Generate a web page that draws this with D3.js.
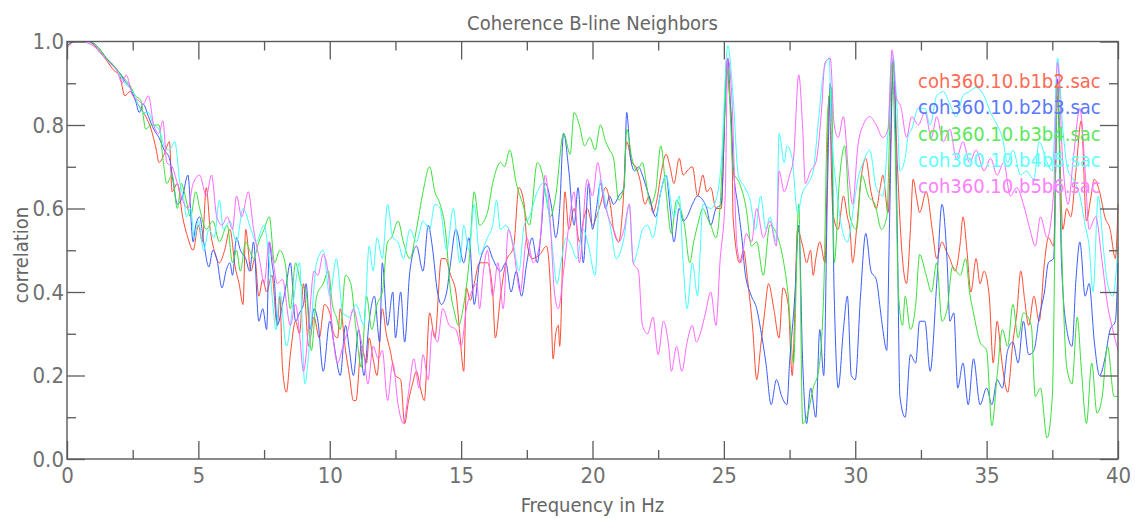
<!DOCTYPE html>
<html>
<head>
<meta charset="utf-8">
<script src="https://cdn.jsdelivr.net/npm/d3@7"></script>
<style>
  body { margin: 0; background: #fff; }
  text { font-family: "Liberation Sans Narrow", "DejaVu Sans Condensed", sans-serif; }
</style>
</head>
<body>
<div id="chart"></div>
<script>
//Series: [frequency Hz, correlation]
const b1b2 = [[0,0.985],[0.3,1.0],[0.8,1.0],[1.2,0.98],[1.5,0.955],[1.8,0.93],[2.0,0.92],[2.2,0.87],[2.4,0.88],[2.6,0.86],[2.8,0.84],[3.0,0.82],[3.2,0.79],[3.4,0.74],[3.5,0.71],[3.7,0.73],[3.9,0.76],[4.0,0.64],[4.2,0.66],[4.4,0.58],[4.6,0.53],[4.8,0.50],[5.0,0.56],[5.15,0.52],[5.3,0.65],[5.45,0.55],[5.6,0.5],[5.8,0.47],[6.0,0.5],[6.2,0.55],[6.4,0.46],[6.55,0.42],[6.7,0.37],[6.8,0.55],[7.0,0.45],[7.15,0.48],[7.3,0.39],[7.45,0.43],[7.6,0.4],[7.8,0.44],[8.0,0.32],[8.1,0.39],[8.2,0.22],[8.35,0.16],[8.5,0.25],[8.7,0.33],[8.85,0.3],[9.0,0.42],[9.2,0.27],[9.4,0.34],[9.6,0.29],[9.8,0.37],[10.0,0.35],[10.15,0.3],[10.3,0.29],[10.4,0.36],[10.6,0.26],[10.75,0.2],[10.9,0.14],[11.0,0.14],[11.2,0.27],[11.4,0.23],[11.5,0.29],[11.65,0.24],[11.8,0.2],[12.0,0.36],[12.15,0.3],[12.3,0.26],[12.5,0.2],[12.7,0.19],[12.85,0.085],[13.0,0.14],[13.15,0.18],[13.3,0.21],[13.45,0.17],[13.6,0.14],[13.8,0.35],[14.0,0.29],[14.25,0.48],[14.4,0.48],[14.6,0.44],[14.8,0.4],[14.95,0.3],[15.1,0.21],[15.2,0.41],[15.35,0.38],[15.5,0.42],[15.7,0.47],[16.0,0.47],[16.2,0.4],[16.3,0.29],[16.5,0.39],[16.7,0.47],[17.0,0.51],[17.2,0.65],[17.4,0.61],[17.5,0.52],[17.7,0.48],[18.0,0.49],[18.25,0.51],[18.4,0.41],[18.5,0.24],[18.6,0.3],[18.7,0.32],[18.75,0.27],[18.95,0.64],[19.1,0.55],[19.3,0.6],[19.5,0.52],[19.65,0.57],[19.8,0.6],[20.0,0.56],[20.15,0.58],[20.3,0.61],[20.5,0.65],[20.7,0.6],[20.8,0.55],[21.0,0.52],[21.15,0.6],[21.3,0.76],[21.5,0.71],[21.65,0.7],[21.8,0.67],[22.0,0.61],[22.15,0.63],[22.3,0.59],[22.45,0.62],[22.6,0.68],[22.8,0.73],[22.95,0.7],[23.1,0.66],[23.3,0.72],[23.45,0.68],[23.6,0.69],[23.8,0.7],[24.0,0.63],[24.2,0.68],[24.35,0.64],[24.5,0.65],[24.7,0.6],[24.9,0.6],[25.0,0.75],[25.1,0.955],[25.2,0.88],[25.3,0.79],[25.35,0.58],[25.6,0.47],[25.75,0.5],[25.9,0.43],[26.1,0.31],[26.25,0.19],[26.4,0.27],[26.55,0.35],[26.7,0.42],[26.9,0.36],[27.1,0.29],[27.25,0.41],[27.45,0.37],[27.6,0.2],[27.7,0.35],[27.8,0.55],[28.0,0.51],[28.15,0.47],[28.3,0.5],[28.4,0.44],[28.5,0.48],[28.65,0.52],[28.85,0.47],[29.0,0.87],[29.15,0.59],[29.35,0.55],[29.55,0.63],[29.7,0.58],[29.8,0.55],[29.9,0.47],[30.05,0.55],[30.2,0.66],[30.4,0.72],[30.6,0.64],[30.8,0.6],[30.95,0.65],[31.05,0.68],[31.25,0.59],[31.45,0.95],[31.6,0.71],[31.75,0.52],[31.95,0.42],[32.1,0.55],[32.2,0.67],[32.35,0.62],[32.45,0.59],[32.7,0.64],[32.95,0.54],[33.1,0.48],[33.3,0.52],[33.45,0.5],[33.6,0.48],[33.8,0.45],[34.0,0.52],[34.1,0.58],[34.25,0.5],[34.4,0.4],[34.6,0.48],[34.75,0.42],[34.9,0.45],[35.1,0.39],[35.25,0.23],[35.4,0.33],[35.55,0.25],[35.65,0.2],[35.8,0.16],[36.0,0.28],[36.15,0.35],[36.3,0.45],[36.45,0.38],[36.6,0.32],[36.8,0.39],[37.0,0.33],[37.2,0.47],[37.35,0.53],[37.55,0.51],[37.7,0.87],[37.9,0.55],[38.05,0.6],[38.2,0.58],[38.4,0.69],[38.6,0.81],[38.8,0.57],[38.95,0.62],[39.1,0.67],[39.3,0.64],[39.5,0.58],[39.7,0.55],[39.9,0.48],[40.0,0.61]]

const b2b3 = [[0,0.99],[0.3,1.0],[0.8,1.0],[1.2,0.985],[1.5,0.96],[1.8,0.94],[2.0,0.925],[2.2,0.905],[2.4,0.89],[2.6,0.86],[2.75,0.83],[2.9,0.85],[3.1,0.82],[3.3,0.79],[3.5,0.77],[3.7,0.74],[3.9,0.72],[4.05,0.66],[4.2,0.61],[4.4,0.63],[4.6,0.68],[4.8,0.52],[4.9,0.56],[5.05,0.58],[5.2,0.52],[5.4,0.46],[5.55,0.5],[5.7,0.48],[5.9,0.41],[6.05,0.45],[6.2,0.47],[6.3,0.44],[6.45,0.53],[6.6,0.5],[6.8,0.48],[6.95,0.45],[7.1,0.52],[7.3,0.33],[7.45,0.36],[7.6,0.31],[7.7,0.52],[7.8,0.47],[7.9,0.42],[8.0,0.32],[8.2,0.37],[8.35,0.42],[8.5,0.47],[8.7,0.33],[8.85,0.35],[9.0,0.37],[9.1,0.42],[9.25,0.31],[9.4,0.36],[9.55,0.33],[9.75,0.21],[10.0,0.33],[10.15,0.28],[10.25,0.24],[10.4,0.2],[10.6,0.32],[10.75,0.26],[10.9,0.2],[11.1,0.31],[11.3,0.2],[11.5,0.33],[11.7,0.39],[11.9,0.28],[12.0,0.47],[12.2,0.32],[12.4,0.4],[12.5,0.29],[12.7,0.4],[12.85,0.28],[13.05,0.45],[13.3,0.51],[13.55,0.45],[13.75,0.56],[13.9,0.51],[14.1,0.4],[14.25,0.37],[14.45,0.4],[14.6,0.47],[14.8,0.55],[15.1,0.47],[15.3,0.53],[15.5,0.37],[15.7,0.47],[16.0,0.51],[16.2,0.48],[16.5,0.45],[16.7,0.47],[16.9,0.4],[17.1,0.45],[17.3,0.39],[17.5,0.47],[17.7,0.53],[17.9,0.47],[18.05,0.55],[18.2,0.66],[18.45,0.6],[18.6,0.53],[18.75,0.6],[18.9,0.78],[19.1,0.69],[19.3,0.56],[19.45,0.65],[19.65,0.47],[19.85,0.66],[20.0,0.55],[20.15,0.6],[20.3,0.66],[20.5,0.6],[20.65,0.63],[20.8,0.61],[21.0,0.63],[21.2,0.65],[21.3,0.83],[21.45,0.72],[21.6,0.69],[21.75,0.7],[21.9,0.68],[22.05,0.65],[22.2,0.62],[22.4,0.58],[22.6,0.64],[22.8,0.68],[22.95,0.6],[23.1,0.52],[23.3,0.6],[23.45,0.57],[23.6,0.58],[23.8,0.61],[24.0,0.63],[24.2,0.62],[24.35,0.6],[24.5,0.56],[24.7,0.6],[24.9,0.61],[25.05,0.85],[25.15,0.96],[25.25,0.85],[25.35,0.71],[25.55,0.6],[25.7,0.52],[25.8,0.45],[26.05,0.39],[26.25,0.36],[26.4,0.31],[26.6,0.23],[26.8,0.13],[27.0,0.19],[27.2,0.15],[27.4,0.13],[27.5,0.23],[27.7,0.39],[27.85,0.56],[28.0,0.23],[28.15,0.085],[28.3,0.17],[28.5,0.1],[28.65,0.31],[28.8,0.2],[28.95,0.67],[29.05,0.9],[29.2,0.39],[29.35,0.17],[29.55,0.31],[29.7,0.39],[29.85,0.2],[30.0,0.19],[30.2,0.39],[30.4,0.54],[30.6,0.45],[30.8,0.43],[30.95,0.36],[31.05,0.31],[31.2,0.26],[31.3,0.55],[31.45,0.96],[31.6,0.55],[31.7,0.15],[31.9,0.1],[32.1,0.25],[32.3,0.23],[32.45,0.33],[32.65,0.33],[32.85,0.21],[33.1,0.42],[33.3,0.61],[33.5,0.47],[33.6,0.33],[33.75,0.35],[33.9,0.17],[34.1,0.23],[34.3,0.13],[34.5,0.24],[34.75,0.13],[35.0,0.17],[35.2,0.13],[35.4,0.19],[35.6,0.17],[35.8,0.26],[36.0,0.28],[36.2,0.23],[36.4,0.33],[36.6,0.25],[36.8,0.26],[37.0,0.34],[37.2,0.4],[37.35,0.47],[37.55,0.48],[37.7,0.91],[37.85,0.47],[38.05,0.31],[38.25,0.27],[38.4,0.43],[38.55,0.52],[38.75,0.39],[38.9,0.42],[39.1,0.28],[39.3,0.2],[39.5,0.24],[39.7,0.31],[39.9,0.33],[40.0,0.47]]

const b3b4 = [[0,1.0],[0.5,1.0],[0.9,1.0],[1.2,0.985],[1.5,0.96],[1.75,0.945],[2.0,0.925],[2.2,0.91],[2.4,0.895],[2.6,0.87],[2.8,0.86],[3.0,0.79],[3.2,0.8],[3.5,0.8],[3.65,0.72],[3.8,0.66],[4.0,0.68],[4.2,0.6],[4.35,0.66],[4.5,0.63],[4.7,0.58],[4.9,0.64],[5.05,0.6],[5.3,0.55],[5.55,0.57],[5.8,0.52],[6.1,0.56],[6.3,0.47],[6.45,0.5],[6.6,0.45],[6.8,0.52],[6.95,0.5],[7.1,0.48],[7.3,0.52],[7.5,0.55],[7.7,0.58],[7.9,0.47],[8.1,0.5],[8.3,0.47],[8.5,0.36],[8.7,0.47],[8.9,0.42],[9.1,0.4],[9.3,0.26],[9.5,0.39],[9.75,0.42],[9.95,0.45],[10.1,0.37],[10.25,0.34],[10.4,0.31],[10.6,0.44],[10.8,0.42],[11.0,0.31],[11.2,0.22],[11.4,0.39],[11.6,0.31],[11.8,0.37],[12.0,0.4],[12.2,0.52],[12.35,0.53],[12.6,0.57],[12.8,0.52],[13.05,0.48],[13.3,0.55],[13.55,0.64],[13.8,0.7],[14.0,0.64],[14.2,0.61],[14.4,0.55],[14.6,0.4],[14.75,0.35],[14.9,0.32],[15.1,0.37],[15.3,0.47],[15.5,0.64],[15.7,0.56],[16.0,0.59],[16.2,0.66],[16.5,0.71],[16.65,0.7],[16.85,0.74],[17.1,0.66],[17.35,0.61],[17.6,0.56],[17.9,0.71],[18.1,0.68],[18.25,0.62],[18.4,0.58],[18.6,0.63],[18.9,0.78],[19.15,0.73],[19.3,0.83],[19.5,0.8],[19.7,0.75],[19.9,0.77],[20.1,0.74],[20.3,0.8],[20.5,0.76],[20.65,0.74],[20.8,0.72],[21.0,0.62],[21.2,0.65],[21.3,0.79],[21.5,0.72],[21.7,0.69],[21.9,0.71],[22.05,0.66],[22.2,0.61],[22.4,0.64],[22.6,0.75],[22.8,0.64],[23.0,0.54],[23.2,0.62],[23.35,0.6],[23.5,0.56],[23.7,0.47],[23.85,0.52],[24.0,0.56],[24.2,0.6],[24.35,0.58],[24.5,0.56],[24.7,0.53],[24.85,0.6],[25.0,0.79],[25.15,0.94],[25.25,0.82],[25.35,0.69],[25.6,0.66],[25.85,0.6],[26.05,0.51],[26.25,0.52],[26.5,0.44],[26.75,0.56],[27.0,0.54],[27.25,0.48],[27.45,0.39],[27.65,0.23],[27.85,0.61],[28.0,0.085],[28.2,0.11],[28.4,0.17],[28.6,0.21],[28.8,0.4],[28.95,0.83],[29.1,0.89],[29.2,0.47],[29.4,0.67],[29.6,0.75],[29.8,0.58],[30.05,0.55],[30.25,0.68],[30.5,0.63],[30.75,0.61],[31.0,0.55],[31.2,0.58],[31.4,0.95],[31.5,0.79],[31.65,0.39],[31.8,0.32],[31.9,0.39],[32.1,0.31],[32.3,0.37],[32.45,0.49],[32.7,0.44],[32.9,0.4],[33.1,0.47],[33.3,0.33],[33.5,0.36],[33.7,0.46],[34.0,0.44],[34.2,0.48],[34.35,0.4],[34.5,0.35],[34.75,0.28],[35.0,0.26],[35.2,0.08],[35.4,0.2],[35.6,0.31],[35.8,0.27],[36.0,0.37],[36.2,0.29],[36.4,0.35],[36.7,0.32],[36.85,0.15],[37.05,0.17],[37.3,0.05],[37.5,0.15],[37.7,0.9],[37.85,0.52],[38.05,0.22],[38.25,0.18],[38.45,0.34],[38.6,0.22],[38.8,0.085],[39.0,0.23],[39.2,0.11],[39.4,0.15],[39.6,0.27],[39.85,0.15],[40.0,0.15]]

const b4b5 = [[0,1.0],[0.5,1.0],[1.0,0.99],[1.3,0.97],[1.6,0.95],[1.9,0.93],[2.2,0.9],[2.5,0.88],[2.7,0.85],[2.9,0.83],[3.1,0.83],[3.3,0.8],[3.5,0.79],[3.7,0.75],[3.9,0.74],[4.1,0.76],[4.3,0.66],[4.45,0.62],[4.55,0.58],[4.7,0.6],[4.85,0.53],[5.0,0.57],[5.2,0.5],[5.4,0.55],[5.6,0.53],[5.8,0.62],[5.95,0.55],[6.2,0.57],[6.45,0.52],[6.7,0.6],[7.0,0.55],[7.2,0.52],[7.5,0.56],[7.7,0.47],[7.85,0.36],[7.95,0.31],[8.1,0.4],[8.35,0.27],[8.6,0.37],[8.85,0.47],[9.05,0.18],[9.25,0.29],[9.5,0.47],[9.75,0.5],[10.0,0.39],[10.25,0.48],[10.5,0.35],[10.75,0.34],[11.0,0.37],[11.3,0.32],[11.5,0.51],[11.65,0.45],[11.8,0.53],[12.0,0.48],[12.2,0.61],[12.4,0.53],[12.6,0.52],[12.8,0.48],[13.05,0.55],[13.3,0.52],[13.55,0.57],[13.8,0.55],[14.0,0.61],[14.2,0.6],[14.45,0.5],[14.7,0.6],[14.95,0.47],[15.1,0.56],[15.3,0.5],[15.5,0.61],[15.7,0.49],[16.0,0.53],[16.2,0.56],[16.35,0.62],[16.5,0.55],[16.7,0.56],[17.0,0.51],[17.2,0.45],[17.4,0.56],[17.6,0.58],[17.9,0.64],[18.1,0.66],[18.25,0.63],[18.45,0.52],[18.65,0.42],[18.8,0.47],[19.0,0.53],[19.2,0.51],[19.4,0.48],[19.65,0.55],[19.85,0.51],[20.1,0.44],[20.3,0.67],[20.5,0.61],[20.7,0.55],[20.9,0.48],[21.2,0.53],[21.4,0.61],[21.55,0.47],[21.75,0.51],[21.9,0.55],[22.1,0.56],[22.3,0.53],[22.6,0.64],[22.8,0.68],[23.1,0.58],[23.3,0.63],[23.45,0.47],[23.6,0.36],[23.8,0.47],[24.0,0.39],[24.1,0.5],[24.2,0.61],[24.5,0.6],[24.7,0.62],[24.9,0.71],[25.15,0.99],[25.35,0.87],[25.55,0.68],[25.8,0.65],[26.0,0.62],[26.2,0.55],[26.4,0.63],[26.6,0.55],[26.75,0.58],[27.0,0.52],[27.1,0.78],[27.3,0.71],[27.4,0.75],[27.6,0.72],[27.8,0.59],[28.0,0.64],[28.2,0.66],[28.4,0.69],[28.6,0.81],[28.8,0.93],[29.0,0.96],[29.1,0.79],[29.3,0.64],[29.5,0.55],[29.7,0.52],[29.95,0.61],[30.1,0.67],[30.3,0.71],[30.55,0.74],[30.8,0.65],[31.05,0.63],[31.25,0.79],[31.4,0.97],[31.6,0.83],[31.7,0.69],[31.9,0.72],[32.0,0.77],[32.15,0.79],[32.4,0.84],[32.65,0.84],[32.85,0.8],[33.1,0.87],[33.35,0.88],[33.6,0.85],[33.85,0.82],[34.1,0.87],[34.35,0.88],[34.6,0.89],[34.9,0.87],[35.15,0.83],[35.4,0.8],[35.6,0.77],[35.8,0.71],[36.0,0.74],[36.3,0.68],[36.5,0.69],[36.8,0.67],[37.0,0.76],[37.3,0.71],[37.5,0.69],[37.7,0.96],[37.9,0.79],[38.1,0.69],[38.3,0.67],[38.55,0.63],[38.75,0.56],[38.9,0.51],[39.05,0.4],[39.25,0.63],[39.45,0.5],[39.6,0.42],[39.8,0.39],[40.0,0.51]]

const b5b6 = [[0,1.0],[0.5,1.0],[1.0,0.99],[1.3,0.97],[1.6,0.95],[1.9,0.93],[2.1,0.9],[2.25,0.92],[2.5,0.87],[2.7,0.86],[2.9,0.85],[3.1,0.87],[3.3,0.8],[3.5,0.78],[3.65,0.81],[3.8,0.71],[4.0,0.7],[4.2,0.66],[4.4,0.62],[4.6,0.6],[4.8,0.66],[5.05,0.68],[5.3,0.63],[5.5,0.68],[5.7,0.58],[5.9,0.56],[6.1,0.58],[6.3,0.55],[6.45,0.63],[6.65,0.58],[6.9,0.64],[7.1,0.55],[7.35,0.47],[7.5,0.42],[7.7,0.52],[7.85,0.47],[8.0,0.42],[8.2,0.43],[8.5,0.32],[8.7,0.37],[8.85,0.3],[9.0,0.21],[9.2,0.32],[9.4,0.45],[9.55,0.44],[9.75,0.49],[9.95,0.44],[10.1,0.31],[10.3,0.23],[10.5,0.27],[10.7,0.31],[10.9,0.36],[11.1,0.31],[11.3,0.25],[11.45,0.18],[11.65,0.27],[11.85,0.24],[12.0,0.26],[12.2,0.14],[12.4,0.23],[12.6,0.13],[12.8,0.085],[13.0,0.16],[13.2,0.24],[13.4,0.17],[13.55,0.25],[13.75,0.19],[13.9,0.31],[14.1,0.28],[14.3,0.36],[14.55,0.32],[14.8,0.31],[15.0,0.27],[15.2,0.36],[15.4,0.4],[15.6,0.42],[15.7,0.36],[15.85,0.45],[16.0,0.5],[16.2,0.39],[16.4,0.47],[16.6,0.36],[16.8,0.55],[17.0,0.5],[17.25,0.4],[17.5,0.53],[17.75,0.47],[18.0,0.52],[18.2,0.68],[18.4,0.56],[18.55,0.4],[18.7,0.36],[18.9,0.45],[19.1,0.56],[19.3,0.64],[19.5,0.47],[19.8,0.67],[20.0,0.63],[20.2,0.71],[20.4,0.63],[20.6,0.58],[20.8,0.55],[21.0,0.52],[21.2,0.55],[21.4,0.61],[21.55,0.47],[21.75,0.45],[21.9,0.32],[22.1,0.3],[22.3,0.34],[22.5,0.25],[22.7,0.33],[22.9,0.27],[23.0,0.21],[23.2,0.27],[23.4,0.21],[23.6,0.28],[23.8,0.32],[23.95,0.28],[24.1,0.3],[24.3,0.35],[24.5,0.4],[24.7,0.32],[24.85,0.47],[25.05,0.63],[25.15,0.96],[25.3,0.87],[25.5,0.51],[25.65,0.47],[25.85,0.54],[26.05,0.52],[26.25,0.6],[26.5,0.53],[26.75,0.57],[27.0,0.51],[27.1,0.69],[27.3,0.64],[27.5,0.68],[27.65,0.72],[27.85,0.92],[28.0,0.79],[28.1,0.66],[28.3,0.69],[28.5,0.71],[28.7,0.82],[28.85,0.95],[29.05,0.96],[29.2,0.8],[29.35,0.77],[29.55,0.82],[29.75,0.68],[29.9,0.61],[30.1,0.75],[30.3,0.8],[30.55,0.82],[30.8,0.8],[31.05,0.77],[31.25,0.79],[31.4,0.98],[31.55,0.87],[31.75,0.84],[31.95,0.77],[32.15,0.82],[32.4,0.8],[32.65,0.83],[32.9,0.77],[33.1,0.82],[33.35,0.76],[33.6,0.79],[33.85,0.72],[34.1,0.76],[34.35,0.71],[34.6,0.74],[34.9,0.69],[35.15,0.72],[35.4,0.68],[35.65,0.71],[35.9,0.63],[36.15,0.65],[36.4,0.61],[36.65,0.55],[36.85,0.51],[37.05,0.58],[37.3,0.53],[37.55,0.64],[37.7,0.95],[37.9,0.71],[38.1,0.61],[38.3,0.72],[38.55,0.84],[38.75,0.69],[38.9,0.55],[39.15,0.58],[39.4,0.47],[39.6,0.37],[39.8,0.31],[40.0,0.26]]

const fileNames = ['coh360.10.b1b2.sac', 'coh360.10.b2b3.sac', 'coh360.10.b3b4.sac', 'coh360.10.b4b5.sac', 'coh360.10.b5b6.sac']
const xTicks = [0, 5, 10, 15, 20, 25, 30, 35, 40]
const xMinor = [2.5, 7.5, 12.5, 17.5, 22.5, 27.5, 32.5, 37.5]
const yTicks = [0, 0.2, 0.4, 0.6, 0.8, 1.0]
const yMinor = [0.1, 0.3, 0.5, 0.7, 0.9]

const series = [b1b2, b2b3, b3b4, b4b5, b5b6]
const lineColors = ['#ff4a30', '#3a5cff', '#38e038', '#40ffff', '#ff66ff']
const textColors = ['#ff6a55', '#5a78ff', '#5ae85a', '#60ffff', '#ff80ff']

const width = 1135
const height = 519
const plotLeft = 67, plotRight = 1118, plotTop = 41.5, plotBottom = 459

let svg = d3.select('#chart')
            .append('svg')
            .attr('width', width)
            .attr('height', height)

let xScale = d3.scaleLinear().domain([0, 40]).range([plotLeft, plotRight])
let yScale = d3.scaleLinear().domain([0, 1]).range([plotBottom, plotTop])

//Data lines
let line = d3.line()
             .curve(d3.curveMonotoneX)
             .x(d => xScale(d[0]))
             .y(d => yScale(d[1]))

svg.selectAll('path.trace')
   .data(series)
   .enter()
   .append('path')
   .attr('class', 'trace')
   .attr('d', line)
   .attr('fill', 'none')
   .attr('stroke', (d, i) => lineColors[i])
   .attr('stroke-width', 1)

//Frame and inward ticks
function styleAxis(g) {
  g.select('.domain').remove()
  g.selectAll('.tick line').attr('stroke', '#5a5a5a').attr('stroke-width', 1.3)
  g.selectAll('.tick text').attr('fill', '#707070').style('font-size', '22px')
}

svg.append('g')
   .attr('transform', `translate(0, ${plotBottom})`)
   .call(d3.axisBottom(xScale).tickValues(xTicks).tickSize(-18).tickPadding(8).tickFormat(d3.format('d')))
   .call(styleAxis)
svg.append('g')
   .attr('transform', `translate(0, ${plotBottom})`)
   .call(d3.axisBottom(xScale).tickValues(xMinor).tickSize(-9).tickFormat(''))
   .call(styleAxis)
svg.append('g')
   .attr('transform', `translate(0, ${plotTop})`)
   .call(d3.axisTop(xScale).tickValues(xTicks).tickSize(-18).tickFormat(''))
   .call(styleAxis)
svg.append('g')
   .attr('transform', `translate(0, ${plotTop})`)
   .call(d3.axisTop(xScale).tickValues(xMinor).tickSize(-9).tickFormat(''))
   .call(styleAxis)
svg.append('g')
   .attr('transform', `translate(${plotLeft}, 0)`)
   .call(d3.axisLeft(yScale).tickValues(yTicks).tickSize(-18).tickPadding(3).tickFormat(d3.format('.1f')))
   .call(styleAxis)
svg.append('g')
   .attr('transform', `translate(${plotLeft}, 0)`)
   .call(d3.axisLeft(yScale).tickValues(yMinor).tickSize(-9).tickFormat(''))
   .call(styleAxis)
svg.append('g')
   .attr('transform', `translate(${plotRight}, 0)`)
   .call(d3.axisRight(yScale).tickValues(yTicks).tickSize(-18).tickFormat(''))
   .call(styleAxis)
svg.append('g')
   .attr('transform', `translate(${plotRight}, 0)`)
   .call(d3.axisRight(yScale).tickValues(yMinor).tickSize(-9).tickFormat(''))
   .call(styleAxis)

svg.append('rect')
   .attr('x', plotLeft)
   .attr('y', plotTop)
   .attr('width', plotRight - plotLeft)
   .attr('height', plotBottom - plotTop)
   .attr('fill', 'none')
   .attr('stroke', '#5a5a5a')
   .attr('stroke-width', 1.4)

//Legend
svg.selectAll('text.legend')
   .data(fileNames)
   .enter()
   .append('text')
   .attr('class', 'legend')
   .attr('x', 918)
   .attr('y', (d, i) => 88 + i * 26.25)
   .attr('fill', (d, i) => textColors[i])
   .style('font-size', '20px')
   .text(d => d)

//Titles
svg.append('text')
   .attr('x', (plotLeft + plotRight) / 2)
   .attr('y', 30)
   .attr('text-anchor', 'middle')
   .attr('fill', '#666')
   .style('font-size', '20px')
   .text('Coherence B-line Neighbors')

svg.append('text')
   .attr('x', (plotLeft + plotRight) / 2)
   .attr('y', 512)
   .attr('text-anchor', 'middle')
   .attr('fill', '#666')
   .style('font-size', '20px')
   .text('Frequency in Hz')

svg.append('text')
   .attr('transform', 'rotate(-90)')
   .attr('x', -255)
   .attr('y', 28)
   .attr('text-anchor', 'middle')
   .attr('fill', '#666')
   .style('font-size', '20px')
   .text('correlation')
</script>
</body>
</html>
